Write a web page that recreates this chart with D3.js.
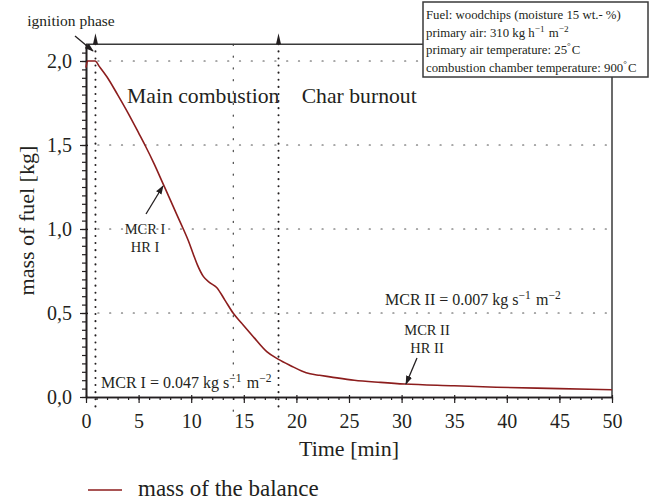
<!DOCTYPE html>
<html><head><meta charset="utf-8">
<script src="https://cdn.jsdelivr.net/npm/d3@7"></script>
<style>
body{margin:0;background:#fff;}
svg{display:block;font-family:"Liberation Serif","DejaVu Serif",serif;}
</style></head>
<body>
<svg id="c" width="661" height="502"></svg>
<script>
// ---- data ----
const timeMin = [0, 0.15, 0.5, 0.86, 1.3, 2.0, 3.0, 4.0, 5.0, 5.6, 6.5, 7.32, 8.0, 8.6, 9.25, 9.73, 10.2, 10.6, 11.15, 11.79, 12.42, 13.2, 14.0, 14.8, 15.9, 17.18, 18.3, 19.5, 20.5, 21.3, 22.2, 23.2, 25.5, 28.0, 30.3, 35.0, 39.0, 45.0, 50.0];
const massKg  = [1.96, 2.0, 2.0, 2.0, 1.965, 1.905, 1.8, 1.69, 1.572, 1.5, 1.385, 1.27, 1.175, 1.09, 1.0, 0.93, 0.85, 0.785, 0.718, 0.68, 0.652, 0.577, 0.498, 0.439, 0.359, 0.27, 0.224, 0.185, 0.155, 0.138, 0.129, 0.12, 0.10, 0.087, 0.077, 0.067, 0.058, 0.05, 0.043];
const xTicks = [0, 5, 10, 15, 20, 25, 30, 35, 40, 45, 50];
const yTicks = [0, 0.5, 1.0, 1.5, 2.0];
const phaseLines = [0.9, 18.3];   // ignition end, char burnout start
const gridX = [14];
const seriesName = "mass of the balance";
const infoLines = [
  ["Fuel: woodchips (moisture 15 wt.- %)"],
  ["primary air: 310 kg h", ["−1"], " m", ["−2"]],
  ["primary air temperature: 25", ["°"], "C"],
  ["combustion chamber temperature: 900", ["°"], "C"]
];

const svg = d3.select("#c");
const ink = "#231f20", red = "#8c1d1d";
const x = d3.scaleLinear().domain([0, 50]).range([86, 612]);
const y = d3.scaleLinear().domain([0, 2.1]).range([397, 44.2]);

// defs arrow
const defs = svg.append("defs");
defs.append("marker").attr("id","ah").attr("viewBox","0 0 10 10").attr("refX",9).attr("refY",5)
  .attr("markerWidth",9).attr("markerHeight",9).attr("markerUnits","userSpaceOnUse").attr("orient","auto")
  .append("path").attr("d","M0,1.5 L10,5 L0,8.5 Z").attr("fill",ink);

// grid
svg.append("g").selectAll("line").data(yTicks.filter(d=>d>0)).join("line")
  .attr("x1", x(0)).attr("x2", x(50)-4).attr("y1", d=>y(d)).attr("y2", d=>y(d))
  .attr("stroke","#555").attr("stroke-width",1.1).attr("stroke-dasharray","1.2,10.6").attr("stroke-linecap","round");
svg.append("g").selectAll("line").data(gridX).join("line")
  .attr("x1", d=>x(d)).attr("x2", d=>x(d)).attr("y1", y(2.1)).attr("y2", y(0)+20)
  .attr("stroke","#333").attr("stroke-width",1.1).attr("stroke-dasharray","1.2,10.6").attr("stroke-linecap","round");

// frame top / right
svg.append("line").attr("x1",x(0)).attr("x2",423).attr("y1",y(2.1)).attr("y2",y(2.1)).attr("stroke","#3a3a3a").attr("stroke-width",1.5);
svg.append("line").attr("x1",x(50)).attr("x2",x(50)).attr("y1",77).attr("y2",y(0)).attr("stroke","#3a3a3a").attr("stroke-width",1.5);

// phase lines (heavy dotted) with up arrows
phaseLines.forEach(t=>{
  svg.append("line").attr("x1",x(t)).attr("x2",x(t)).attr("y1",y(2.1)).attr("y2",y(0)+14)
    .attr("stroke",ink).attr("stroke-width",2).attr("stroke-dasharray","0.1,7").attr("stroke-linecap","round");
  svg.append("path").attr("d",`M${x(t)-2.5},${y(2.1)} L${x(t)},${y(2.1)-11} L${x(t)+2.5},${y(2.1)} Z`).attr("fill",ink);
});

// axes
const xa = svg.append("g").attr("transform",`translate(0,${y(0)})`)
  .call(d3.axisBottom(x).tickValues(d3.range(0,51,1)).tickSize(3).tickFormat("").tickSizeOuter(0));
const xb = svg.append("g").attr("transform",`translate(0,${y(0)})`)
  .call(d3.axisBottom(x).tickValues(xTicks).tickSize(6).tickPadding(11).tickSizeOuter(0));
const ya = svg.append("g").attr("transform",`translate(${x(0)},0)`)
  .call(d3.axisLeft(y).tickValues(d3.range(0,42,1).map(i=>i*0.05)).tickSize(4).tickFormat("").tickSizeOuter(0));
const yb = svg.append("g").attr("transform",`translate(${x(0)},0)`)
  .call(d3.axisLeft(y).tickValues(yTicks).tickSize(6).tickPadding(8).tickSizeOuter(0)
  .tickFormat(d=>d3.format(".1f")(d).replace(".",",")));
[xa,xb,ya,yb].forEach(g=>{
  g.selectAll("path.domain").attr("stroke",ink).attr("stroke-width",1.6);
  g.selectAll(".tick line").attr("stroke",ink).attr("stroke-width",1.2);
  g.selectAll("text").attr("fill",ink).attr("font-size",20).attr("font-family","Liberation Serif");
});
xb.selectAll(".tick line").attr("y1",-2);
yb.selectAll(".tick line").attr("x1",2);

// axis titles
svg.append("text").attr("x",(x(0)+x(50))/2).attr("y",456).attr("text-anchor","middle")
  .attr("font-size",22).attr("fill",ink).text("Time [min]");
svg.append("text").attr("transform",`translate(34,${y(1.05)}) rotate(-90)`).attr("text-anchor","middle")
  .attr("font-size",22).attr("fill",ink).text("mass of fuel [kg]");

// curve
const pts = timeMin.map((t,i)=>[t, massKg[i]]);
svg.append("path").datum(pts)
  .attr("d", d3.line().x(d=>x(d[0])).y(d=>y(d[1])).curve(d3.curveMonotoneX))
  .attr("fill","none").attr("stroke",red).attr("stroke-width",1.6);

// phase labels
svg.append("text").attr("x",x(3.9)).attr("y",103).attr("font-size",21.7).attr("fill",ink).text("Main combustion");
svg.append("text").attr("x",x(20.5)).attr("y",103).attr("font-size",21.7).attr("fill",ink).text("Char burnout");

// ignition phase
svg.append("text").attr("x",71).attr("y",26).attr("text-anchor","middle").attr("font-size",15.5).attr("fill",ink).text("ignition phase");
svg.append("line").attr("x1",75).attr("y1",36).attr("x2",93).attr("y2",51).attr("stroke",ink).attr("stroke-width",1.3).attr("marker-end","url(#ah)");

// helper for text with superscripts
function richText(g, parts, fs){
  parts.forEach(p=>{
    if (Array.isArray(p)) {
      g.append("tspan").attr("dy",-fs*0.4).attr("font-size",fs*0.72).text(p[0]);
      g.append("tspan").attr("dy",fs*0.4).attr("font-size",fs).text("\u200a");
    } else g.append("tspan").attr("font-size",fs).text(p);
  });
}

// MCR annotations
function two(xc, y1, l1, l2){
  svg.append("text").attr("x",xc).attr("y",y1).attr("text-anchor","middle").attr("font-size",14.5).attr("fill",ink).text(l1);
  svg.append("text").attr("x",xc).attr("y",y1+18).attr("text-anchor","middle").attr("font-size",14.5).attr("fill",ink).text(l2);
}
two(145, 234, "MCR I", "HR I");
svg.append("line").attr("x1",146).attr("y1",214).attr("x2",163).attr("y2",186).attr("stroke",ink).attr("stroke-width",1.3).attr("marker-end","url(#ah)");
two(427, 335, "MCR II", "HR II");
svg.append("line").attr("x1",417).attr("y1",358).attr("x2",406).attr("y2",384).attr("stroke",ink).attr("stroke-width",1.3).attr("marker-end","url(#ah)");

const t1 = svg.append("text").attr("x",101).attr("y",388).attr("fill",ink);
richText(t1, ["MCR I = 0.047 kg s", ["−1"], " m", ["−2"]], 16);
const t2 = svg.append("text").attr("x",385).attr("y",305).attr("fill",ink);
richText(t2, ["MCR II = 0.007 kg s", ["−1"], " m", ["−2"]], 16);

// info box
svg.append("rect").attr("x",423).attr("y",2).attr("width",225).attr("height",75)
  .attr("fill","#fff").attr("stroke","#3a3a3a").attr("stroke-width",1.5);
infoLines.forEach((ln,i)=>{
  const t = svg.append("text").attr("x",426).attr("y",19+i*17.7).attr("fill",ink);
  richText(t, ln, 12.8);
});

// legend
svg.append("line").attr("x1",88).attr("x2",122).attr("y1",490).attr("y2",490).attr("stroke",red).attr("stroke-width",1.6);
svg.append("text").attr("x",138).attr("y",496).attr("font-size",23).attr("fill",ink).text(seriesName);
</script>
</body></html>
